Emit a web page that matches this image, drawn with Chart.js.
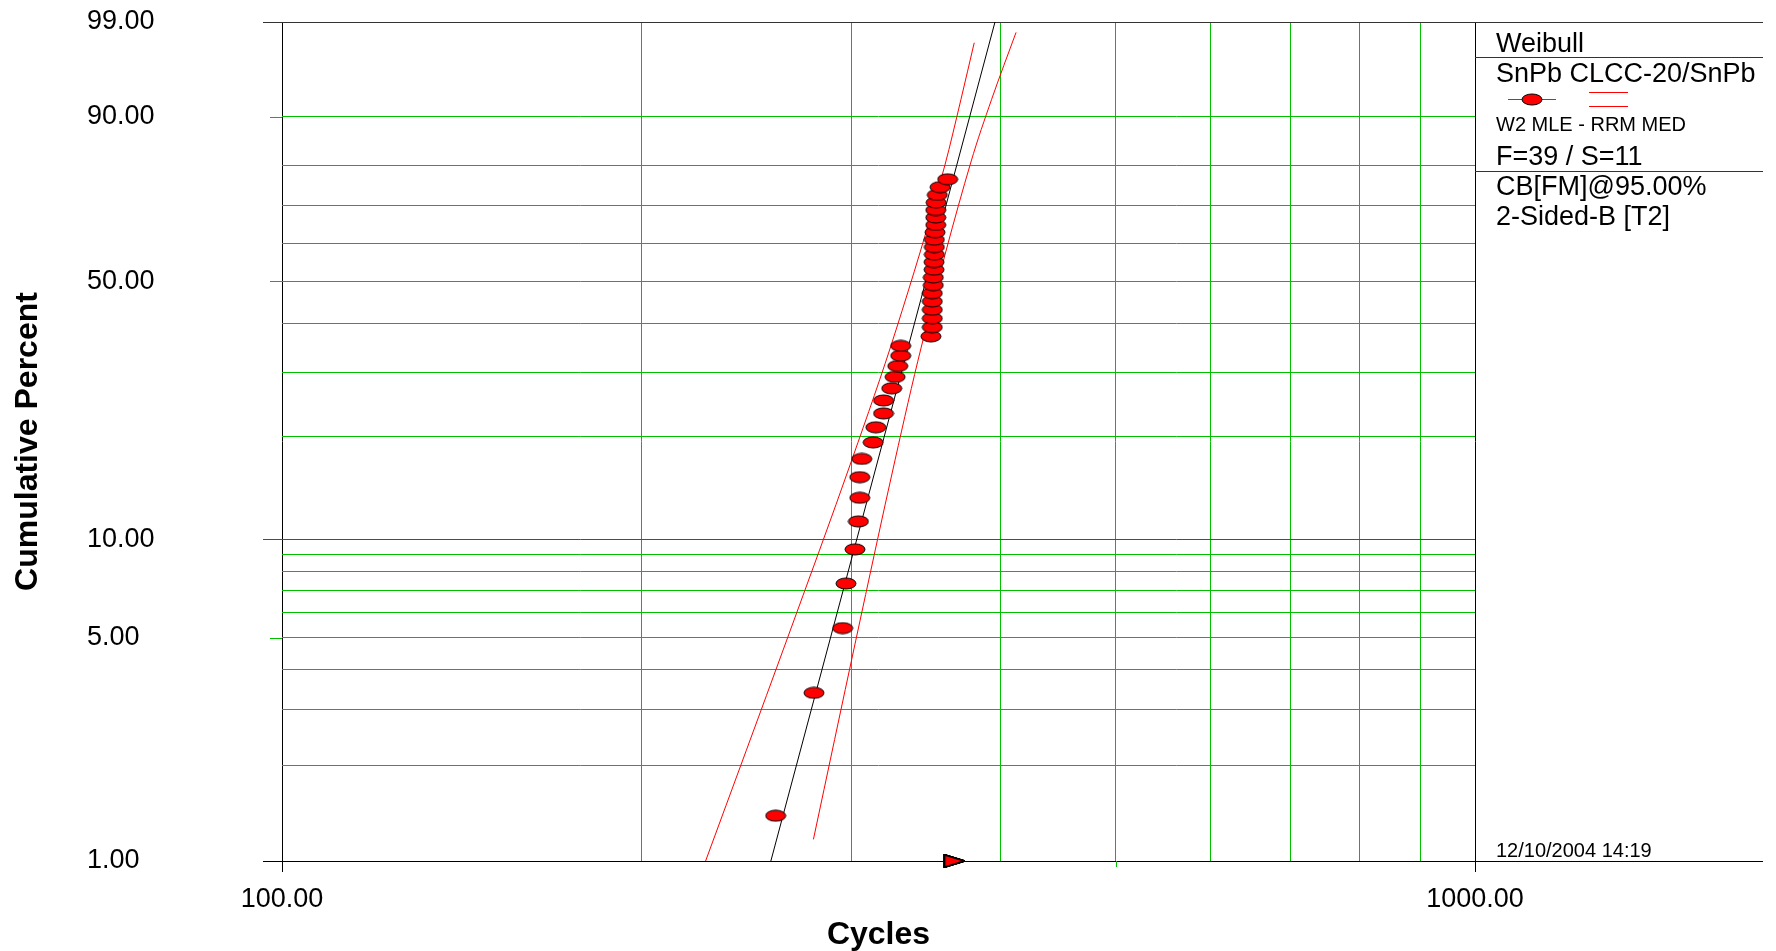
<!DOCTYPE html>
<html>
<head>
<meta charset="utf-8">
<script src="https://cdn.jsdelivr.net/npm/chart.js@4.4.0/dist/chart.umd.min.js"></script>
<style>
html,body{margin:0;padding:0;background:#ffffff;overflow:hidden}
#wrap{width:1776px;height:951px;position:relative}
</style>
</head>
<body>
<div id="wrap"><canvas id="c" width="1776" height="951"></canvas></div>
<script>
// ---------------- data ----------------
const failCycles = [259.3, 279.2, 295.1, 297.0, 302.2, 304.2, 305.0, 305.0, 306.2, 313.0,
  314.6, 319.3, 319.3, 324.4, 326.5, 328.2, 330.1, 330.1, 349.9, 350.8,
  350.8, 350.8, 350.8, 350.8, 351.5, 351.5, 352.0, 352.0, 352.2, 352.2,
  352.2, 352.7, 353.2, 353.2, 353.2, 353.4, 354.2, 356.1, 361.4];
const failPercent = [1.389, 3.373, 5.357, 7.341, 9.325, 11.310, 13.294, 15.278, 17.262, 19.246,
  21.230, 23.214, 25.198, 27.183, 29.167, 31.151, 33.135, 35.119, 37.103, 39.087,
  41.071, 43.056, 45.040, 47.024, 49.008, 50.992, 52.976, 54.960, 56.944, 58.929,
  60.913, 62.897, 64.881, 66.865, 68.849, 70.833, 72.817, 74.802, 76.786];
const suspCycles = [366, 366, 366, 366, 366, 366, 366, 366, 366, 366, 366];
const suspPercent = [1, 1, 1, 1, 1, 1, 1, 1, 1, 1, 1];
const fitCycles = [256.9, 395.95];
const fitPercent = [1, 99];
const lowerCycles = [226.5, 264.9, 300.7, 327.1, 359.5, 370.8, 380.4];
const lowerPercent = [1.00, 4.92, 17.33, 38.48, 80.23, 92.71, 98.09];
const upperCycles = [278.9, 302.7, 326.5, 343.3, 378.0, 393.4, 412.4];
const upperPercent = [1.17, 4.92, 17.14, 34.69, 80.93, 92.71, 98.60];

const xTicks = [100, 200, 300, 400, 500, 600, 700, 800, 900, 1000];
const xLabelTicks = [100, 1000];
const yGridPercents = [1, 2, 3, 4, 5, 6, 7, 8, 9, 10, 20, 30, 40, 50, 60, 70, 80, 90, 99];
const yLabelPercents = [1, 5, 10, 50, 90, 99];

const legendTexts = ['Weibull', 'SnPb CLCC-20/SnPb', 'W2 MLE - RRM MED', 'F=39 / S=11', 'CB[FM]@95.00%', '2-Sided-B [T2]'];
const dateText = '12/10/2004 14:19';
const xTitle = 'Cycles';
const yTitle = 'Cumulative Percent';

// ---------------- helpers ----------------
const FONT = '"Liberation Sans", Arial, Helvetica, sans-serif';
const GREEN = '#00c000';
const RED = '#ff0000';
const wb = p => Math.log(-Math.log(1 - p / 100));           // Weibull probability scale
const pairs = (xs, ps) => xs.map((x, i) => ({ x: x, y: wb(ps[i]) }));

function makeEllipse(w, h) {
  const c = document.createElement('canvas');
  c.width = w; c.height = h;
  const g = c.getContext('2d');
  g.beginPath();
  g.ellipse(w / 2, h / 2, w / 2 - 1, h / 2 - 1, 0, 0, Math.PI * 2);
  g.fillStyle = RED; g.fill();
  g.lineWidth = 1; g.strokeStyle = '#000'; g.stroke();
  return c;
}
function makeTriangle(w, h) {
  const c = document.createElement('canvas');
  c.width = w; c.height = h;
  const g = c.getContext('2d');
  g.beginPath();
  g.moveTo(1.5, 1); g.lineTo(w - 1, h / 2); g.lineTo(1.5, h - 1); g.closePath();
  g.fillStyle = RED; g.fill();
  g.lineWidth = 1.5; g.strokeStyle = '#000'; g.stroke();
  return c;
}
const ellipseImg = makeEllipse(22, 13);
const triImg = makeTriangle(22, 14);

const framePlugin = {
  id: 'frame',
  beforeDatasetsDraw(chart) {
    const { ctx, chartArea: a, scales: { x, y } } = chart;
    const rightEdge = 1763;
    const px = v => Math.round(v) + 0.5;
    ctx.save();
    ctx.lineWidth = 1;
    const hline = (x1, x2, yy, col) => { ctx.strokeStyle = col; ctx.beginPath(); ctx.moveTo(x1, px(yy)); ctx.lineTo(x2, px(yy)); ctx.stroke(); };
    const vline = (xx, y1, y2, col) => { ctx.strokeStyle = col; ctx.beginPath(); ctx.moveTo(px(xx), y1); ctx.lineTo(px(xx), y2); ctx.stroke(); };
    // top & bottom frame lines (99% and 1%), extending across the legend panel
    hline(a.left - 19, rightEdge, y.getPixelForValue(wb(99)), '#333');
    hline(a.left - 19, rightEdge, y.getPixelForValue(wb(1)), '#000');
    // legend separators
    hline(a.right, rightEdge, a.top + 35, '#333');
    hline(a.right, rightEdge, a.top + 149, '#333');
    // y tick marks
    [90, 50, 5].forEach(p => hline(a.left - 12, a.left, y.getPixelForValue(wb(p)), GREEN));
    hline(a.left - 19, a.left, y.getPixelForValue(wb(10)), RED);
    // x tick marks
    vline(x.getPixelForValue(100), a.bottom, a.bottom + 11, '#000');
    vline(x.getPixelForValue(1000), a.bottom, a.bottom + 11, '#000');
    vline(x.getPixelForValue(500), a.bottom, a.bottom + 6, GREEN);
    ctx.restore();
  },
  afterDraw(chart) {
    const { ctx, chartArea: a } = chart;
    const tx = a.right + 21;
    ctx.save();
    ctx.fillStyle = '#000';
    ctx.textBaseline = 'alphabetic';
    ctx.textAlign = 'left';
    ctx.font = '27px ' + FONT;
    ctx.fillText(legendTexts[0], tx, 52);
    ctx.fillText(legendTexts[1], tx, 82);
    ctx.font = '20px ' + FONT;
    ctx.fillText(legendTexts[2], tx, 131);
    ctx.font = '27px ' + FONT;
    ctx.fillText(legendTexts[3], tx, 165);
    ctx.fillText(legendTexts[4], tx, 195);
    ctx.fillText(legendTexts[5], tx, 225);
    ctx.font = '20px ' + FONT;
    ctx.fillText(dateText, tx, 857);
    // legend symbols
    ctx.lineWidth = 1;
    ctx.strokeStyle = '#555';
    ctx.beginPath(); ctx.moveTo(1508, 99.5); ctx.lineTo(1556, 99.5); ctx.stroke();
    ctx.drawImage(ellipseImg, 1532 - 11, 99 - 6);
    ctx.strokeStyle = RED;
    ctx.beginPath(); ctx.moveTo(1589, 92.5); ctx.lineTo(1628, 92.5); ctx.stroke();
    ctx.beginPath(); ctx.moveTo(1589, 106.5); ctx.lineTo(1628, 106.5); ctx.stroke();
    ctx.restore();
  }
};

Chart.defaults.font.family = FONT;
Chart.defaults.color = '#000';

new Chart(document.getElementById('c').getContext('2d'), {
  type: 'scatter',
  data: {
    datasets: [
      { label: 'Lower bound', data: pairs(lowerCycles, lowerPercent), showLine: true, borderColor: RED, borderWidth: 1,
        pointRadius: 0, cubicInterpolationMode: 'monotone', order: 4 },
      { label: 'Upper bound', data: pairs(upperCycles, upperPercent), showLine: true, borderColor: RED, borderWidth: 1,
        pointRadius: 0, cubicInterpolationMode: 'monotone', order: 3 },
      { label: 'Fit', data: pairs(fitCycles, fitPercent), showLine: true, borderColor: '#000', borderWidth: 1,
        pointRadius: 0, order: 2 },
      { label: 'Failures', data: pairs(failCycles, failPercent), showLine: false, pointStyle: ellipseImg,
        pointRadius: 8, order: 1 },
      { label: 'Suspensions', data: pairs(suspCycles, suspPercent), showLine: false, pointStyle: triImg,
        pointRadius: 8, clip: false, order: 0 }
    ]
  },
  options: {
    responsive: false,
    animation: false,
    devicePixelRatio: 1,
    layout: { padding: { left: 87, top: 22, right: 301, bottom: 0 } },
    plugins: { legend: { display: false }, tooltip: { enabled: false } },
    scales: {
      x: {
        type: 'logarithmic', min: 100, max: 1000, bounds: 'data',
        afterBuildTicks: s => { s.ticks = xTicks.map(v => ({ value: v })); },
        afterFit: s => { s.height = 90; },
        border: { display: false },
        grid: { drawTicks: false, lineWidth: 1,
          color: c => (c.tick && (c.tick.value === 100 || c.tick.value === 1000)) ? '#000' : GREEN },
        ticks: { autoSkip: false, maxRotation: 0, minRotation: 0, padding: 22, color: '#000',
          font: { size: 27 },
          callback: v => xLabelTicks.includes(v) ? Number(v).toFixed(2) : '' },
        title: { display: true, text: xTitle, color: '#000', font: { size: 32, weight: 'bold' },
          padding: { top: 0, bottom: -3 } }
      },
      y: {
        type: 'linear', min: wb(1), max: wb(99), bounds: 'data',
        afterBuildTicks: s => { s.ticks = yGridPercents.map(p => ({ value: wb(p) })); },
        afterFit: s => { s.width = 195; },
        border: { display: false },
        grid: { drawTicks: false, lineWidth: 1,
          color: c => {
            const p = yGridPercents[c.index];
            if (p === 10) return RED;
            if (p === 1 || p === 99) return 'rgba(0,0,0,0)';
            return GREEN;
          } },
        ticks: { autoSkip: false, crossAlign: 'far', padding: 0, color: '#000', font: { size: 27 },
          callback: (v, i) => { const p = yGridPercents[i]; return yLabelPercents.includes(p) ? p.toFixed(2) : ''; } },
        title: { display: true, text: yTitle, color: '#000', font: { size: 32, weight: 'bold' },
          padding: { top: -78, bottom: 0 } }
      }
    }
  },
  plugins: [framePlugin]
});
</script>
</body>
</html>
